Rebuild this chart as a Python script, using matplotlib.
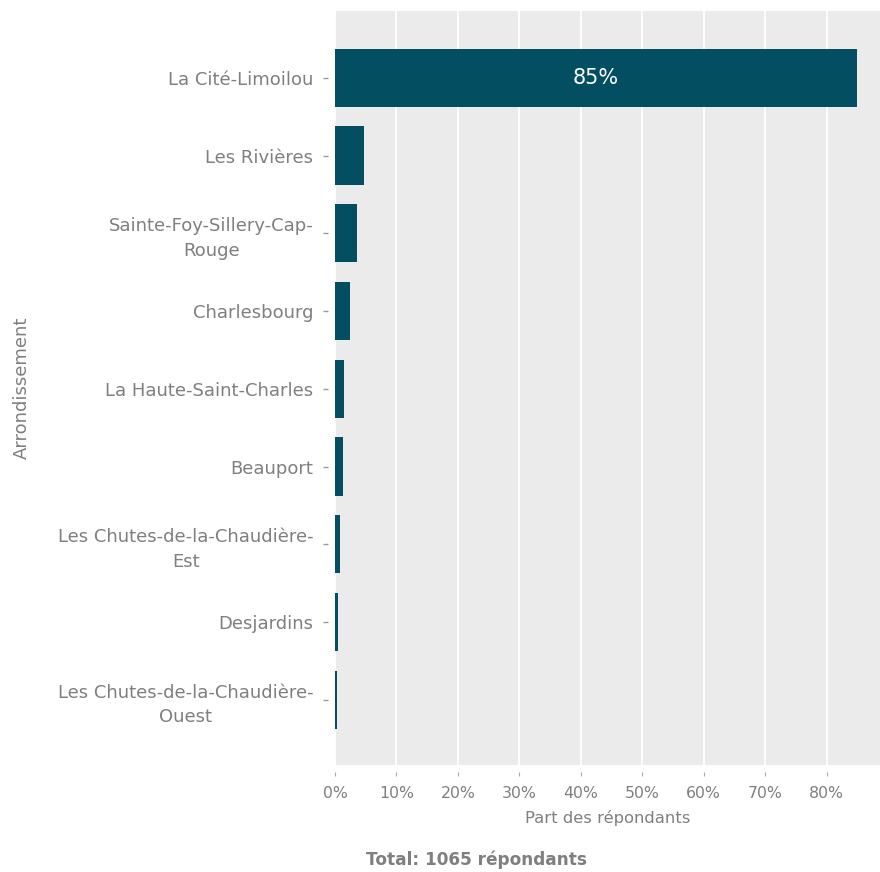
import matplotlib
matplotlib.use("Agg")
import matplotlib.pyplot as plt
from matplotlib.ticker import FuncFormatter
from matplotlib.transforms import blended_transform_factory

categories = [
    "La Cité-Limoilou",
    "Les Rivières",
    "Sainte-Foy-Sillery-Cap-\nRouge",
    "Charlesbourg",
    "La Haute-Saint-Charles",
    "Beauport",
    "Les Chutes-de-la-Chaudière-\nEst",
    "Desjardins",
    "Les Chutes-de-la-Chaudière-\nOuest",
]
shares = [85.0, 4.7, 3.6, 2.5, 1.5, 1.35, 0.85, 0.5, 0.35]
xticks = [0, 10, 20, 30, 40, 50, 60, 70, 80]
total_label = "Total: 1065 répondants"

plt.rcParams['font.family'] = ['DejaVu Sans']
gray = '#7f7f7f'
bar_color = '#044e61'

W, H = 880, 872
L, B, PW, PH = 335, 107, 545, 754

fig = plt.figure(figsize=(W / 100, H / 100), dpi=100)
ax = fig.add_axes([L / W, B / H, PW / W, PH / H])
ax.set_facecolor('#ebebeb')

ypos = list(range(len(categories)))
ax.barh(ypos, shares, height=0.75, color=bar_color, zorder=3)
ax.set_ylim(len(categories) - 1 + 0.84, -0.86)
ax.set_xlim(0, 88.7)

ax.set_xticks(xticks)
ax.xaxis.set_major_formatter(FuncFormatter(lambda v, p: f"{v:.0f}%"))
ax.set_yticks(ypos)
ax.set_yticklabels(categories)
for t in ax.get_yticklabels():
    t.set_multialignment('center')
    t.set_linespacing(1.45)

ax.grid(axis='x', color='white', linewidth=1.3, zorder=1)
ax.grid(axis='y', visible=False)
for s in ax.spines.values():
    s.set_visible(False)

ax.tick_params(axis='y', length=0, labelcolor=gray, labelsize=13, pad=15.5)
ax.tick_params(axis='x', length=0, labelcolor=gray, labelsize=11.3, pad=15)

# small detached tick marks (ggplot-like look)
ty = blended_transform_factory(ax.transAxes, ax.transData)
for y in ypos:
    ax.plot([-12 / PW, -7 / PW], [y, y], transform=ty, color='#999999',
            lw=1, clip_on=False, solid_capstyle='butt')
tx = blended_transform_factory(ax.transData, ax.transAxes)
for x in xticks:
    ax.plot([x, x], [-7 / PH, -11 / PH], transform=tx, color='#aaaaaa',
            lw=0.8, clip_on=False, solid_capstyle='butt')

ax.set_xlabel("Part des répondants", color=gray, fontsize=11.8)
ax.xaxis.set_label_coords(0.5, ((H - 818) - B) / PH)
ax.xaxis.label.set_va('center')
ax.set_ylabel("Arrondissement", color=gray, fontsize=13)
ax.yaxis.set_label_coords((22 - L) / PW, 0.5)
ax.yaxis.label.set_va('center')

ax.text(shares[0] / 2, 0, f"{shares[0]:.0f}%", color='white', fontsize=15,
        ha='center', va='center', zorder=4)

fig.text(476 / W, 1 - 860 / H, total_label, color=gray, fontsize=12.2,
         fontweight='bold', ha='center', va='center')

fig.savefig("out.png", dpi=100)
